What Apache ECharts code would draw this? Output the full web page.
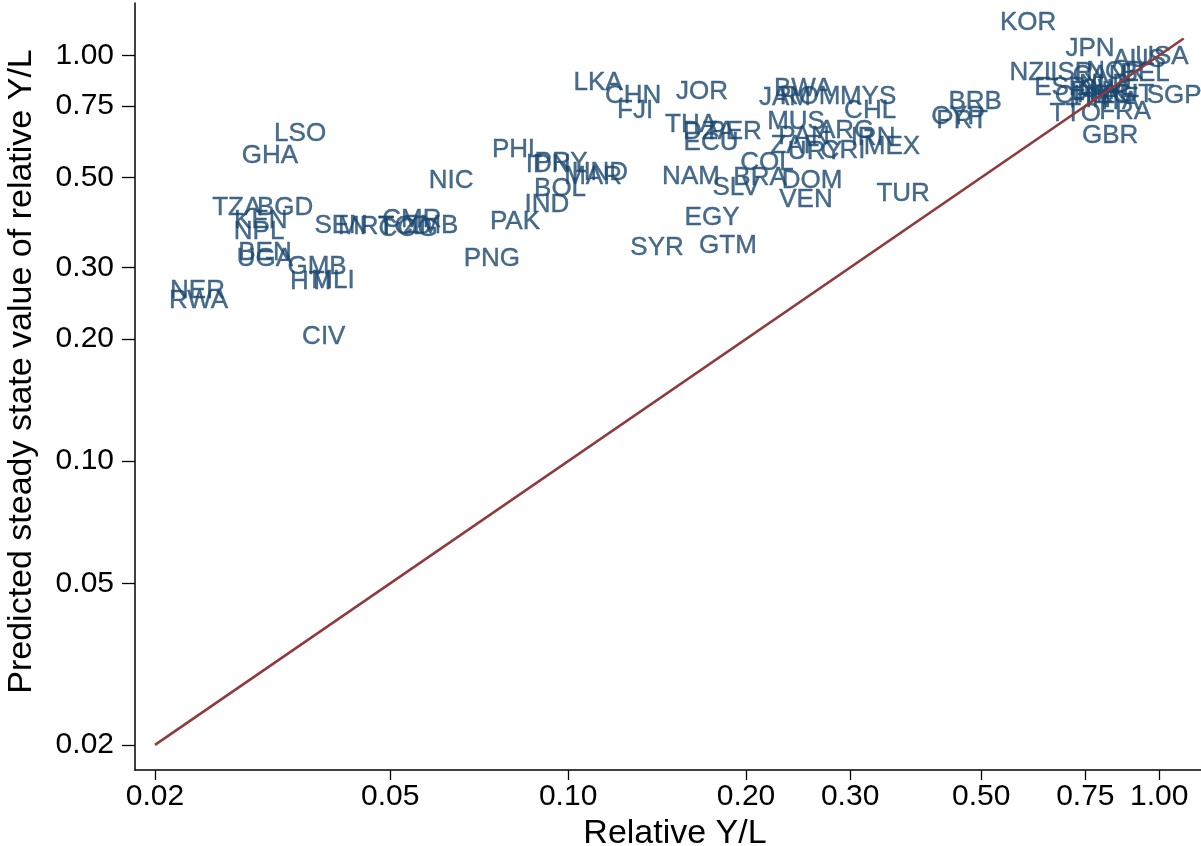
<!DOCTYPE html>
<html>
<head>
<meta charset="utf-8">
<script src="https://cdn.jsdelivr.net/npm/echarts@6/dist/echarts.min.js"></script>
<style>
html,body{margin:0;padding:0;background:#fff;overflow:hidden;}
#chart{width:1201px;height:846px;}
</style>
</head>
<body>
<div id="chart"></div>
<script>
const codes = [
  "LSO","GHA","NIC","TZA","BGD","KEN","NPL","SEN","MRT","TCD","CMR","COG","ZMB",
  "BEN","UGA","GMB","HTI","MLI","NER","RWA","CIV",
  "PHL","IDN","PRY","HND","MAR","BOL","IND","PAK","PNG",
  "LKA","CHN","FJI","JOR","THA","DZA","PER","ECU","NAM","SLV","EGY","GTM","SYR","BRA","COL",
  "JAM","BWA","ROM","MYS","CHL","MUS","PAN","ARG","IRN","ZAF","URY","CRI","MEX","DOM","VEN","TUR",
  "BRB","CYP","PRT",
  "KOR","JPN","USA","AUS","NZL","ISR","CAN","NOR","BEL","ESP","CHE","NLD","SWE","DNK","FIN",
  "ITA","AUT","SGP","HKG","TTO","FRA","GBR"
];
const relYL = [
  0.0352,0.0313,0.0634,0.0275,0.0332,0.0302,0.0300,0.0413,0.0455,0.0530,0.0544,0.0536,0.0586,
  0.0307,0.0307,0.0376,0.0367,0.0400,0.0236,0.0237,0.0386,
  0.0820,0.0925,0.0973,0.1132,0.1102,0.0969,0.0921,0.0813,0.0743,
  0.1124,0.1288,0.1298,0.1685,0.1614,0.1732,0.1916,0.1745,0.1614,0.1924,0.1752,0.1864,0.1414,0.2112,0.2170,
  0.2328,0.2498,0.2566,0.3218,0.3243,0.2430,0.2507,0.2953,0.3280,0.2420,0.2617,0.2918,0.3532,0.2586,0.2526,0.3688,
  0.4882,0.4568,0.4640,
  0.600,0.764,1.011,0.925,0.614,0.712,0.794,0.842,0.947,0.680,0.741,0.810,0.826,0.788,0.764,
  0.859,0.886,1.060,0.810,0.721,0.876,0.826
];
const predYL = [
  0.640,0.565,0.490,0.420,0.420,0.391,0.367,0.380,0.378,0.378,0.393,0.373,0.380,
  0.326,0.315,0.301,0.276,0.278,0.263,0.248,0.203,
  0.584,0.537,0.543,0.513,0.501,0.468,0.428,0.388,0.315,
  0.854,0.793,0.729,0.812,0.673,0.647,0.647,0.608,0.501,0.471,0.397,0.339,0.335,0.499,0.543,
  0.785,0.826,0.789,0.789,0.729,0.685,0.629,0.651,0.625,0.597,0.578,0.581,0.594,0.490,0.440,0.455,
  0.767,0.705,0.689,
  1.200,1.036,0.990,0.973,0.904,0.904,0.889,0.909,0.899,0.830,0.793,0.845,0.821,0.812,0.776,
  0.767,0.798,0.793,0.798,0.717,0.725,0.632
];
const tickValues = [0.02,0.05,0.10,0.20,0.30,0.50,0.75,1.00];
const lineEnds = [0.02, 1.1];

const FONT = '"Liberation Sans", Arial, Helvetica, sans-serif';
const chart = echarts.init(document.getElementById('chart'), null, {renderer:'canvas'});

const pts = codes.map((c,i)=>({name:c, value:[relYL[i], predYL[i]]}));

chart.setOption({
  animation:false,
  backgroundColor:'#ffffff',
  grid:{left:135, right:0, top:3, bottom:76, containLabel:false, outerBoundsMode:'none'},
  xAxis:{
    type:'log', logBase:10, min:0.0185, max:1.177,
    name:'Relative Y/L', nameLocation:'middle', nameGap:43,
    nameTextStyle:{fontFamily:FONT, fontSize:34, color:'#000', padding:[0,0,0,14]},
    axisLine:{show:true, onZero:false, lineStyle:{color:'#000', width:1.6}},
    axisTick:{show:true, length:10, customValues:tickValues, lineStyle:{color:'#000', width:1.3}},
    axisLabel:{customValues:tickValues, margin:12, fontFamily:FONT, fontSize:30, color:'#000',
      formatter:v=>Number(v).toFixed(2)},
    splitLine:{show:false}, minorTick:{show:false}
  },
  yAxis:{
    type:'log', logBase:10, min:0.01735, max:1.345,
    name:'Predicted steady state value of relative Y/L', nameLocation:'middle', nameGap:96,
    nameRotate:90,
    nameTextStyle:{fontFamily:FONT, fontSize:34, color:'#000', padding:[0,0,0,30]},
    axisLine:{show:true, onZero:false, lineStyle:{color:'#000', width:1.5}},
    axisTick:{show:true, length:13, customValues:tickValues, lineStyle:{color:'#000', width:1.3}},
    axisLabel:{customValues:tickValues, margin:21, fontFamily:FONT, fontSize:30, color:'#000',
      formatter:v=>Number(v).toFixed(2)},
    splitLine:{show:false}, minorTick:{show:false}
  },
  series:[
    {
      type:'line',
      data:[[lineEnds[0],lineEnds[0]],[lineEnds[1],lineEnds[1]]],
      symbol:'none', silent:true,
      lineStyle:{color:'#8f3a3e', width:2.6},
      z:3
    },
    {
      type:'scatter',
      data:pts,
      symbolSize:0,
      itemStyle:{color:'rgba(0,0,0,0)'},
      label:{show:true, position:'inside', offset:[0,2], formatter:'{b}', fontFamily:FONT, fontSize:26,
        color:'#1a476f', textBorderColor:'#1a476f', textBorderWidth:0.4},
      labelLayout:{hideOverlap:false},
      silent:true,
      z:2
    }
  ]
});
</script>
</body>
</html>
